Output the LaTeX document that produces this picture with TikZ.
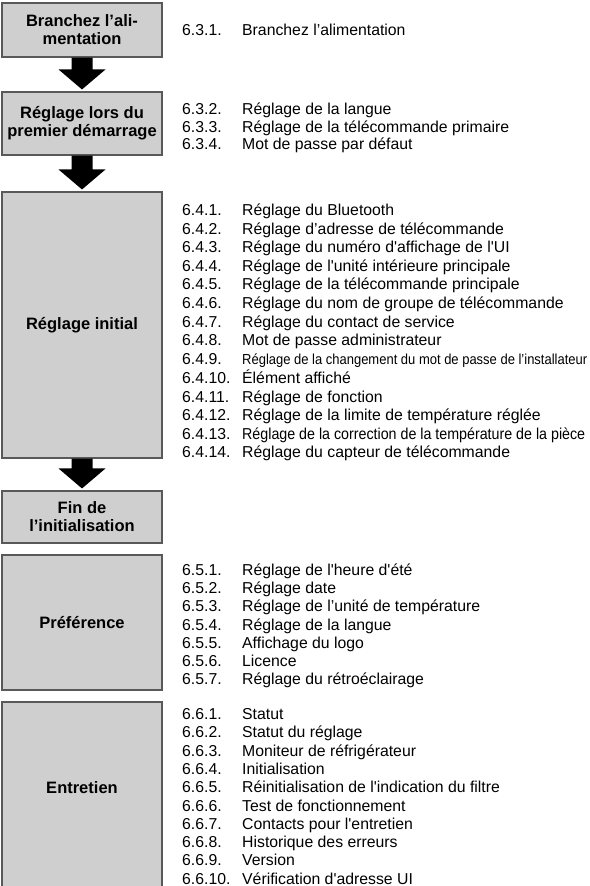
\documentclass[tikz,border=0pt]{standalone}
\usepackage{fontspec}
\setmainfont{Liberation Sans}[Ligatures=TeXOff]
\usepackage{graphicx}
\usetikzlibrary{calc}
\newcommand\itemfont{\fontsize{15.8}{18.6}\selectfont}
\newcommand\bigdown[2]{%
  \fill[black] ($(#1.south)+(-10.5,0)$) -- ($(#1.south)+(10.5,0)$)
    -- ($(#2.north)+(10.5,-22)$) -- ($(#2.north)+(23.5,-22)$)
    -- ($(#2.north)+(0,-2)$) -- ($(#2.north)+(-23.5,-22)$)
    -- ($(#2.north)+(-10.5,-22)$) -- cycle;}
\begin{document}
\begin{tikzpicture}[x=1pt,y=-1pt,
  box/.style={draw=black!65,line width=1.1pt,fill=black!19,minimum width=160pt,
    inner sep=0pt,align=center,font=\bfseries\fontsize{16.5}{18}\selectfont},
  lst/.style={anchor=base west,inner sep=0pt,font=\itemfont}]
\useasboundingbox (0,0) rectangle (589,886);
\clip (0,0) rectangle (589,886);
\node[box,minimum height=54pt] (b1) at (82,30) {Branchez l’ali-\\mentation};
\node[box,minimum height=63pt] (b2) at (82,123.5) {Réglage lors du\\premier démarrage};
\node[box,minimum height=266pt] (b3) at (82,325) {Réglage initial};
\node[box,minimum height=52pt] (b4) at (82,517) {Fin de\\l’initialisation};
\node[box,minimum height=135pt] (b5) at (82,622.5) {Préférence};
\node[box,minimum height=200pt] (b6) at (82,802) {};
\node[font=\bfseries\fontsize{16.5}{18}\selectfont,inner sep=0pt] (l6) at (82,788) {Entretien};
\bigdown{b1}{b2}
\bigdown{b2}{b3}
\bigdown{b3}{b4}
\node[lst] (s1) at (182,35.5) {\begin{tabular}[t]{@{}p{60pt}@{}l@{}}
6.3.1. & Branchez l’alimentation
\end{tabular}};
\node[lst] (s2) at (182,114.5) {\fontsize{15.8}{17.5}\selectfont\begin{tabular}[t]{@{}p{60pt}@{}l@{}}
6.3.2. & Réglage de la langue\\
6.3.3. & Réglage de la télécommande primaire\\
6.3.4. & Mot de passe par défaut
\end{tabular}};
\node[lst] (s3) at (182,215.5) {\begin{tabular}[t]{@{}p{60pt}@{}l@{}}
6.4.1. & Réglage du Bluetooth\\
6.4.2. & Réglage d’adresse de télécommande\\
6.4.3. & Réglage du numéro d'affichage de l'UI\\
6.4.4. & Réglage de l'unité intérieure principale\\
6.4.5. & Réglage de la télécommande principale\\
6.4.6. & Réglage du nom de groupe de télécommande\\
6.4.7. & Réglage du contact de service\\
6.4.8. & Mot de passe administrateur\\
6.4.9. & \resizebox{345pt}{\height}{\fontsize{14.5}{18.6}\selectfont Réglage de la changement du mot de passe de l’installateur}\\
6.4.10. & Élément affiché\\
6.4.11. & Réglage de fonction\\
6.4.12. & Réglage de la limite de température réglée\\
6.4.13. & \resizebox{343pt}{\height}{Réglage de la correction de la température de la pièce}\\
6.4.14. & Réglage du capteur de télécommande
\end{tabular}};
\node[lst] (s5) at (182,575.5) {\fontsize{15.8}{18.2}\selectfont\begin{tabular}[t]{@{}p{60pt}@{}l@{}}
6.5.1. & Réglage de l'heure d'été\\
6.5.2. & Réglage date\\
6.5.3. & Réglage de l’unité de température\\
6.5.4. & Réglage de la langue\\
6.5.5. & Affichage du logo\\
6.5.6. & Licence\\
6.5.7. & Réglage du rétroéclairage
\end{tabular}};
\node[lst] (s6) at (182,719.5) {\fontsize{15.8}{18.3}\selectfont\begin{tabular}[t]{@{}p{60pt}@{}l@{}}
6.6.1. & Statut\\
6.6.2. & Statut du réglage\\
6.6.3. & Moniteur de réfrigérateur\\
6.6.4. & Initialisation\\
6.6.5. & Réinitialisation de l'indication du filtre\\
6.6.6. & Test de fonctionnement\\
6.6.7. & Contacts pour l'entretien\\
6.6.8. & Historique des erreurs\\
6.6.9. & Version\\
6.6.10. & Vérification d'adresse UI
\end{tabular}};
\end{tikzpicture}
\end{document}
